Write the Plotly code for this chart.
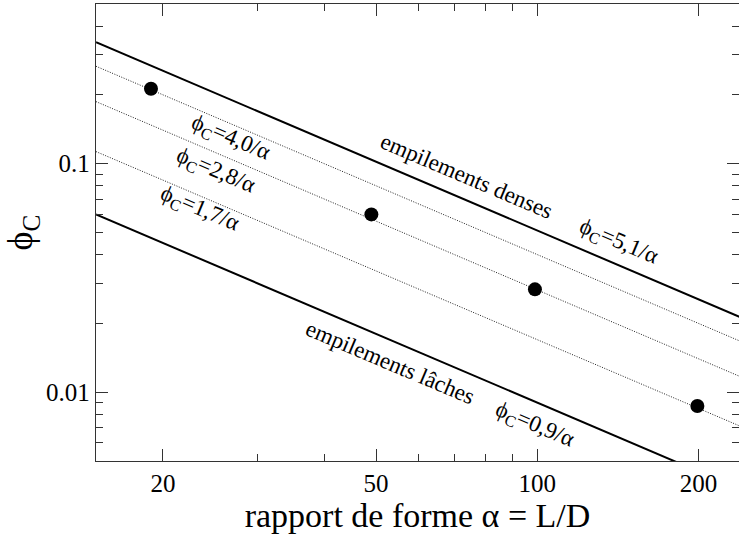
import plotly.graph_objects as go

# ---- data ----
alpha_pts = [19, 49, 99, 199]
phi_pts = [0.213, 0.060, 0.0282, 0.0087]

line_alpha = [15, 240]
dense_phi = [0.340, 0.02125]      # phi_C = 5,1/alpha
phi40 = [0.267, 0.01667]          # phi_C = 4,0/alpha
phi28 = [0.187, 0.01167]          # phi_C = 2,8/alpha
phi17 = [0.113, 0.00708]          # phi_C = 1,7/alpha
loose_phi = [0.060, 0.00375]      # phi_C = 0,9/alpha

x_tickvals = [20, 50, 100, 200]
x_ticktext = ["20", "50", "100", "200"]
x_minor = [30, 40, 60, 70, 80, 90]
y_tickvals = [0.01, 0.1]
y_ticktext = ["0.01", "0.1"]
y_minor = [0.006, 0.007, 0.008, 0.009, 0.02, 0.03, 0.04, 0.05, 0.06, 0.07, 0.08, 0.09, 0.2, 0.3, 0.4]

labels = [
    ("ϕ<sub>C</sub>=4,0/α", 230, 138),
    ("ϕ<sub>C</sub>=2,8/α", 215, 171),
    ("ϕ<sub>C</sub>=1,7/α", 199, 209),
    ("empilements denses", 467, 177),
    ("ϕ<sub>C</sub>=5,1/α", 618, 242),
    ("empilements lâches", 390, 362),
    ("ϕ<sub>C</sub>=0,9/α", 534, 425),
]

FONT = "Liberation Serif"
W, H = 739, 534
L, R, T, B = 96, 739, 4, 461

fig = go.Figure()
for ys in (dense_phi, loose_phi):
    fig.add_trace(go.Scatter(x=line_alpha, y=ys, mode="lines",
                             line=dict(color="black", width=2), showlegend=False))
for ys in (phi40, phi28, phi17):
    fig.add_trace(go.Scatter(x=line_alpha, y=ys, mode="lines",
                             line=dict(color="#222", width=1, dash="1px,1.5px"), showlegend=False))
fig.add_trace(go.Scatter(x=alpha_pts, y=phi_pts, mode="markers",
                         marker=dict(color="black", size=14), showlegend=False))

for txt, px, py in labels:
    fig.add_annotation(text=txt, x=(px - L) / (R - L), y=(B - py) / (B - T),
                       xref="paper", yref="paper", showarrow=False, textangle=23,
                       xanchor="center", yanchor="middle",
                       font=dict(family=FONT, size=23, color="black"))

axis_common = dict(type="log", showgrid=False, zeroline=False, showline=True,
                   linecolor="#333", linewidth=1.3, mirror="ticks", ticks="inside",
                   tickcolor="#333", tickwidth=1.3, ticklen=12, automargin=False,
                   tickfont=dict(family=FONT, size=25, color="black"))

fig.update_xaxes(**axis_common, range=[1.17609, 2.3766],
                 tickmode="array", tickvals=x_tickvals, ticktext=x_ticktext,
                 minor=dict(tickmode="array", tickvals=x_minor, ticks="inside",
                            ticklen=7, tickcolor="#333", tickwidth=1.3),
                 title=dict(text="rapport de forme α = L/D",
                            font=dict(family=FONT, size=34, color="black"), standoff=0))
fig.update_yaxes(**axis_common, range=[-2.30103, -0.30103],
                 tickmode="array", tickvals=y_tickvals, ticktext=y_ticktext,
                 minor=dict(tickmode="array", tickvals=y_minor, ticks="inside",
                            ticklen=7, tickcolor="#333", tickwidth=1.3),
                 title=dict(text="ϕ<sub>C</sub>",
                            font=dict(family=FONT, size=36, color="black"), standoff=6))

fig.update_layout(width=W, height=H, margin=dict(l=L, r=W - R, t=T, b=H - B),
                  plot_bgcolor="white", paper_bgcolor="white")
fig.write_html("out.html", config={"displayModeBar": False},
               post_script="document.body.style.margin='0';document.body.style.overflow='hidden';")
